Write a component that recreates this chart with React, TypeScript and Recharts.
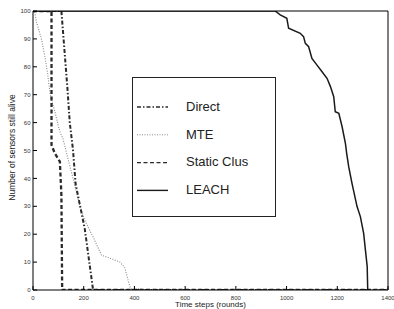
import React from 'react';
import { LineChart, Line, XAxis, YAxis, Legend, Label } from 'recharts';

const xTicks = [0, 200, 400, 600, 800, 1000, 1200, 1400];
const yTicks = [0, 10, 20, 30, 40, 50, 60, 70, 80, 90, 100];

const directData = [
  { t: 0, n: 100 }, { t: 112, n: 100 }, { t: 136, n: 72 }, { t: 145, n: 60 },
  { t: 158, n: 50 }, { t: 168, n: 38 }, { t: 204, n: 22 }, { t: 231, n: 4 },
  { t: 237, n: 0 }, { t: 1400, n: 0 },
];

const mteData = [
  { t: 0, n: 100 }, { t: 6, n: 100 }, { t: 14, n: 96 }, { t: 33, n: 90 },
  { t: 46, n: 84 }, { t: 57, n: 78 }, { t: 68, n: 70 }, { t: 86, n: 64 },
  { t: 105, n: 57 }, { t: 119, n: 54 }, { t: 138, n: 47 }, { t: 158, n: 40 },
  { t: 185, n: 30 }, { t: 204, n: 25 }, { t: 237, n: 19 }, { t: 270, n: 12.5 },
  { t: 300, n: 11.5 }, { t: 343, n: 10 }, { t: 362, n: 8 }, { t: 375, n: 3.5 },
  { t: 383, n: 1 }, { t: 395, n: 0 }, { t: 420, n: 0.5 }, { t: 440, n: 0 },
  { t: 1400, n: 0 },
];

const staticData = [
  { t: 0, n: 100 }, { t: 73, n: 100 }, { t: 73, n: 52 }, { t: 86, n: 49 },
  { t: 106, n: 46 }, { t: 112, n: 34 }, { t: 115, n: 0 }, { t: 1400, n: 0 },
];

const leachData = [
  { t: 0, n: 100 }, { t: 955, n: 100 }, { t: 975, n: 98.6 }, { t: 1001, n: 97.4 },
  { t: 1008, n: 93.8 }, { t: 1054, n: 92 }, { t: 1067, n: 90.8 }, { t: 1074, n: 88.4 },
  { t: 1087, n: 87.2 }, { t: 1100, n: 83 }, { t: 1120, n: 80.6 }, { t: 1140, n: 78.2 },
  { t: 1160, n: 75.8 }, { t: 1173, n: 72.9 }, { t: 1186, n: 69.3 }, { t: 1192, n: 63.9 },
  { t: 1206, n: 63.3 }, { t: 1219, n: 58.5 }, { t: 1232, n: 52.6 }, { t: 1237, n: 49 },
  { t: 1245, n: 44.2 }, { t: 1258, n: 38.2 }, { t: 1278, n: 29.9 }, { t: 1291, n: 26.3 },
  { t: 1304, n: 20.3 }, { t: 1311, n: 14.3 }, { t: 1318, n: 8.4 }, { t: 1320, n: 0 },
];

const seriesNames = ['Direct', 'MTE', 'Static Clus', 'LEACH'];

const styles: Record<string, { stroke: string; width: number; dash?: string }> = {
  Direct: { stroke: '#2a2a2a', width: 2, dash: '4 2 1.5 2' },
  MTE: { stroke: '#888', width: 1.1, dash: '1 1.5' },
  'Static Clus': { stroke: '#2a2a2a', width: 2.3, dash: '4 2.5' },
  LEACH: { stroke: '#1a1a1a', width: 1.5 },
};

const LegendBox = () => (
  <div
    style={{
      width: 144,
      height: 140,
      boxSizing: 'border-box',
      border: '1px solid #222',
      background: '#fff',
    }}
  >
    <svg width={142} height={138}>
      {seriesNames.map((name, i) => {
        const s = styles[name];
        const ly = 29 + i * 27.8;
        return (
          <g key={name}>
            <line
              x1={4}
              x2={35}
              y1={ly}
              y2={ly}
              stroke={s.stroke}
              strokeWidth={name === 'MTE' ? 1 : 1.4}
              strokeDasharray={s.dash}
            />
            <text
              x={53}
              y={ly + 3.8}
              fontSize={13}
              fontFamily="Liberation Sans, Arial, sans-serif"
              fill="#222"
            >
              {name}
            </text>
          </g>
        );
      })}
    </svg>
  </div>
);

const tickStyle = { fontSize: 6, fill: '#333', fontFamily: 'Liberation Sans, Arial, sans-serif' };

export default function App() {
  return (
    <div style={{ position: 'absolute', left: 0, top: 0, background: '#fff' }}>
      <LineChart width={394} height={309} margin={{ top: 0, right: 0, bottom: 0, left: 0 }}>
        <XAxis
          dataKey="t"
          type="number"
          domain={[0, 1400]}
          allowDataOverflow
          ticks={xTicks}
          tickSize={-4}
          tickMargin={10}
          height={19}
          tick={tickStyle}
          stroke="#000"
          interval={0}
        >
          <Label
            value="Time steps (rounds)"
            position="insideBottom"
            offset={2}
            style={{ fontSize: 8, fill: '#222', fontFamily: 'Liberation Sans, Arial, sans-serif' }}
          />
        </XAxis>
        <XAxis
          xAxisId="top"
          orientation="top"
          dataKey="t"
          type="number"
          domain={[0, 1400]}
          allowDataOverflow
          ticks={xTicks}
          tickSize={-4}
          tick={false}
          height={11}
          stroke="#000"
          interval={0}
        />
        <YAxis
          type="number"
          domain={[0, 100]}
          allowDataOverflow
          ticks={yTicks}
          tickSize={-4}
          tickMargin={6.5}
          width={33}
          tick={tickStyle}
          stroke="#000"
          interval={0}
        >
          <Label
            value="Number of sensors still alive"
            angle={-90}
            position="center"
            dx={-4.5}
            dy={-3}
            style={{ fontSize: 8.5, fill: '#222', fontFamily: 'Liberation Sans, Arial, sans-serif' }}
          />
        </YAxis>
        <YAxis
          yAxisId="right"
          orientation="right"
          type="number"
          domain={[0, 100]}
          allowDataOverflow
          ticks={yTicks}
          tickSize={-4}
          tick={false}
          width={6}
          stroke="#000"
          interval={0}
        />
        <Legend
          layout="horizontal"
          verticalAlign="middle"
          align="center"
          content={() => <LegendBox />}
          wrapperStyle={{ position: 'absolute', left: 132, top: 77, width: 144, height: 140 }}
        />
        <Line
          data={mteData}
          dataKey="n"
          name="MTE"
          type="linear"
          stroke={styles.MTE.stroke}
          strokeWidth={styles.MTE.width}
          strokeDasharray={styles.MTE.dash}
          dot={false}
          isAnimationActive={false}
        />
        <Line
          data={directData}
          dataKey="n"
          name="Direct"
          type="linear"
          stroke={styles.Direct.stroke}
          strokeWidth={styles.Direct.width}
          strokeDasharray={styles.Direct.dash}
          dot={false}
          isAnimationActive={false}
        />
        <Line
          data={staticData}
          dataKey="n"
          name="Static Clus"
          type="linear"
          stroke={styles['Static Clus'].stroke}
          strokeWidth={styles['Static Clus'].width}
          strokeDasharray={styles['Static Clus'].dash}
          dot={false}
          isAnimationActive={false}
        />
        <Line
          data={leachData}
          dataKey="n"
          name="LEACH"
          type="linear"
          stroke={styles.LEACH.stroke}
          strokeWidth={styles.LEACH.width}
          dot={false}
          isAnimationActive={false}
        />
      </LineChart>
    </div>
  );
}
